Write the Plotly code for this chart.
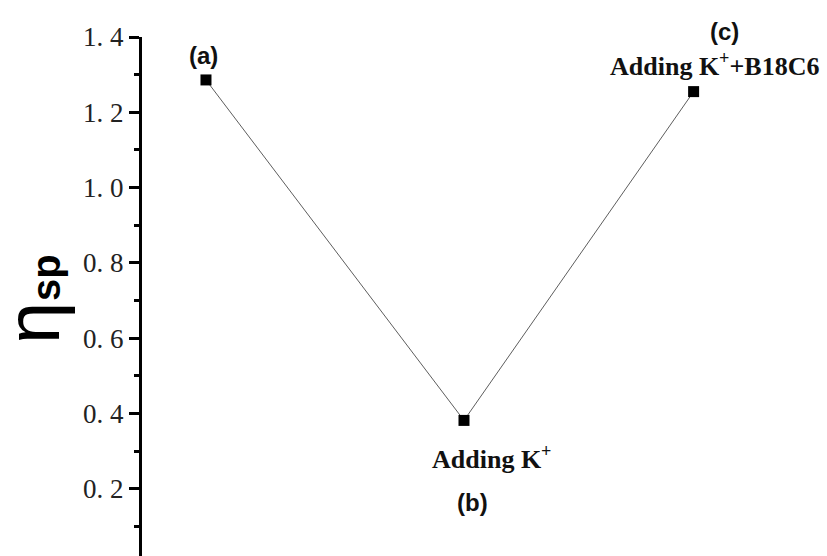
import plotly.graph_objects as go

stages = ["(a)", "(b)", "(c)"]
x_pos = [1.0, 2.0, 2.89]
eta_sp = [1.286, 0.382, 1.255]
tick_vals = [0.2, 0.4, 0.6, 0.8, 1.0, 1.2, 1.4]
tick_text = ["0.\u00a02", "0.\u00a04", "0.\u00a06", "0.\u00a08",
             "1.\u00a00", "1.\u00a02", "1.\u00a04"]

fig = go.Figure()
fig.add_trace(go.Scatter(
    x=x_pos, y=eta_sp, mode="lines+markers",
    line=dict(color="#333333", width=0.8),
    marker=dict(symbol="square", size=11, color="black"),
    showlegend=False, hoverinfo="skip"))

fig.update_layout(
    width=827, height=556,
    margin=dict(l=142, r=0, t=37, b=0),
    plot_bgcolor="white", paper_bgcolor="white",
    xaxis=dict(range=[0.752, 3.407], visible=False),
    yaxis=dict(range=[0.022, 1.4], tickvals=tick_vals, ticktext=tick_text,
               showgrid=False, zeroline=False, showline=True, linecolor="black",
               linewidth=3, ticks="outside", ticklen=10, tickwidth=2.5,
               tickcolor="black",
               tickfont=dict(family="Liberation Serif", size=27, color="#222"),
               minor=dict(dtick=0.1, ticks="outside", ticklen=5, tickwidth=2.5,
                          tickcolor="black")),
)

sans = dict(family="Liberation Sans", size=24, color="#111")
serif = dict(family="Liberation Serif", size=26, color="#111")
fig.add_annotation(x=x_pos[0], y=eta_sp[0], text="<b>(a)</b>", showarrow=False,
                   xshift=-2, yshift=24, font=sans)
fig.add_annotation(x=x_pos[1], y=eta_sp[1], text="<b>Adding K<sup>+</sup></b>", showarrow=False,
                   xshift=28, yshift=-37, font=serif)
fig.add_annotation(x=x_pos[1], y=eta_sp[1], text="<b>(b)</b>", showarrow=False,
                   xshift=9, yshift=-82, font=sans)
fig.add_annotation(x=x_pos[2], y=eta_sp[2], text="<b>(c)</b>", showarrow=False,
                   xshift=31, yshift=60, font=sans)
fig.add_annotation(x=x_pos[2], y=eta_sp[2], text="<b>Adding K<sup>+</sup>+B18C6</b>", showarrow=False,
                   xshift=21, yshift=27, font=serif)
# y-axis title: eta with subscript "sp", rotated
fig.add_annotation(xref="paper", yref="paper", x=(32 - 142) / 685, y=(556 - 323) / 519,
                   xanchor="center", yanchor="middle", text="η",
                   textangle=-90, showarrow=False,
                   font=dict(family="Liberation Sans", size=76, color="black"))
fig.add_annotation(xref="paper", yref="paper", x=(46 - 142) / 685, y=(556 - 277) / 519,
                   xanchor="center", yanchor="middle", text="<b>sp</b>",
                   textangle=-90, showarrow=False,
                   font=dict(family="Liberation Sans", size=40, color="black"))

fig.write_html("out.html")
